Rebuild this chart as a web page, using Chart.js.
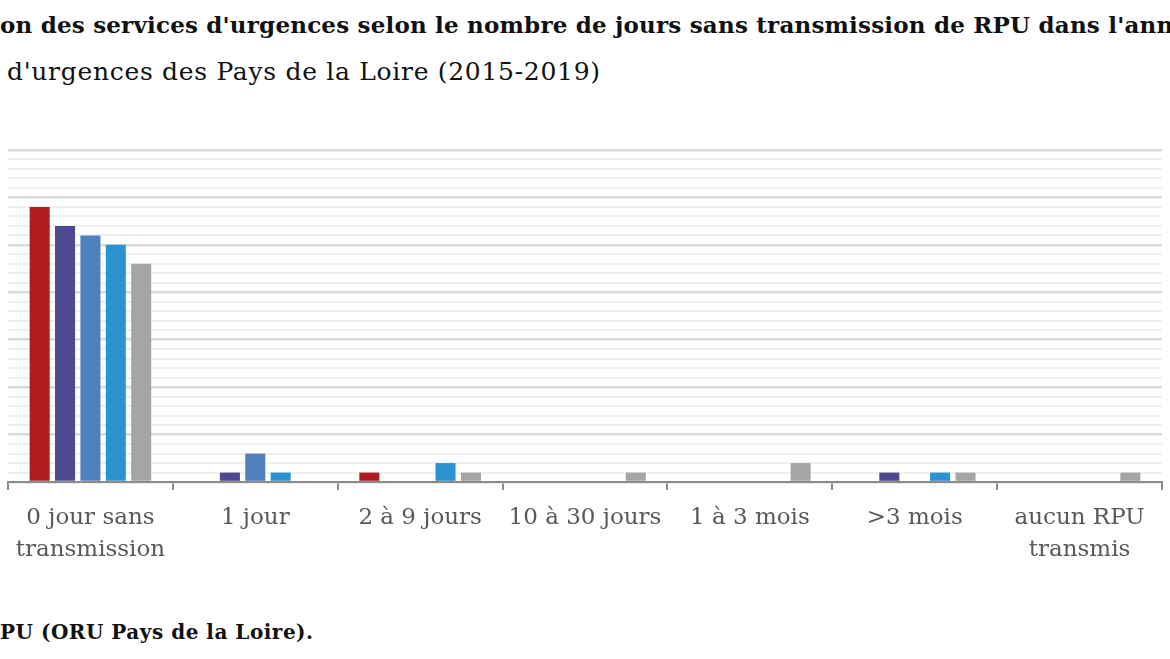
<!DOCTYPE html>
<html lang="fr">
<head>
<meta charset="utf-8">
<title>Services d'urgences - jours sans transmission de RPU</title>
<script src="https://cdn.jsdelivr.net/npm/chart.js@4/dist/chart.umd.min.js"></script>
<style>
    html, body {
        margin: 0;
        padding: 0;
        background: #ffffff;
        width: 1170px;
        height: 659px;
        overflow: hidden;
        font-family: "DejaVu Serif", serif;
    }
    .title, .subtitle, .source {
        position: absolute;
        white-space: nowrap;
        overflow: hidden;
        color: #111111;
        line-height: 1.2;
    }
    .title {
        left: 0;
        top: 11px;
        width: 1170px;
        font-weight: bold;
        font-size: 23px;
        letter-spacing: 0.2px;
    }
    .subtitle {
        left: 7px;
        top: 57px;
        font-size: 25px;
        letter-spacing: 0.7px;
    }
    .source {
        left: 0;
        top: 620px;
        font-size: 20px;
        font-weight: bold;
        letter-spacing: 0.5px;
    }
    #chartBox {
        position: absolute;
        left: 0;
        top: 130px;
        width: 1170px;
        height: 468px;
    }
</style>
</head>
<body>

<div class="title">on des services d'urgences selon le nombre de jours sans transmission de RPU dans l'ann</div>
<div class="subtitle">d'urgences des Pays de la Loire (2015-2019)</div>

<div id="chartBox"><canvas id="rpuChart"></canvas></div>

<div class="source">PU (ORU Pays de la Loire).</div>

<script>
// Categories (x axis)
const categories = [
    ['0 jour sans', 'transmission'],
    '1 jour',
    '2 à 9 jours',
    '10 à 30 jours',
    '1 à 3 mois',
    '>3 mois',
    ['aucun RPU', 'transmis']
];

// Number of emergency services, one array per year
const years = ['2015', '2016', '2017', '2018', '2019'];
const values2015 = [29, 0, 1, 0, 0, 0, 0];
const values2016 = [27, 1, 0, 0, 0, 1, 0];
const values2017 = [26, 3, 0, 0, 0, 0, 0];
const values2018 = [25, 1, 2, 0, 0, 1, 0];
const values2019 = [23, 0, 1, 1, 2, 1, 1];

const yearColors = ['#AE1C1F', '#4F4A8F', '#4F81BD', '#2B93D1', '#A5A5A7'];

// y axis range
const yMin = 0;
const yMax = 35;

document.addEventListener('DOMContentLoaded', function() {
    initChart();
});

function initChart() {
    const ctx = document.getElementById('rpuChart');
    const series = [values2015, values2016, values2017, values2018, values2019];

    new Chart(ctx, {
        type: 'bar',
        data: {
            labels: categories,
            datasets: series.map((data, i) => ({
                label: years[i],
                data: data,
                backgroundColor: yearColors[i],
                borderWidth: 0,
                categoryPercentage: 0.77,
                barPercentage: 0.79
            }))
        },
        options: {
            responsive: true,
            maintainAspectRatio: false,
            animation: false,
            layout: {
                padding: { left: 8, right: 8, top: 20, bottom: 20 }
            },
            plugins: {
                legend: { display: false },
                tooltip: { enabled: false }
            },
            scales: {
                x: {
                    grid: {
                        offset: true,
                        drawOnChartArea: false,
                        drawTicks: true,
                        tickLength: 8,
                        color: '#8C8C8C',
                        lineWidth: 2
                    },
                    border: {
                        display: true,
                        color: '#8C8C8C',
                        width: 2
                    },
                    ticks: {
                        color: '#595959',
                        padding: 12,
                        maxRotation: 0,
                        autoSkip: false,
                        font: {
                            family: '"DejaVu Serif", serif',
                            size: 23,
                            lineHeight: 1.39
                        }
                    }
                },
                y: {
                    min: yMin,
                    max: yMax,
                    ticks: {
                        display: false,
                        stepSize: 1
                    },
                    border: { display: false },
                    grid: {
                        drawTicks: false,
                        color: c => (c.tick.value % 5 === 0 ? '#D9D9D9' : '#F0F0F0'),
                        lineWidth: c => (c.tick.value % 5 === 0 ? 2.5 : 2)
                    }
                }
            }
        }
    });
}
</script>
</body>
</html>
